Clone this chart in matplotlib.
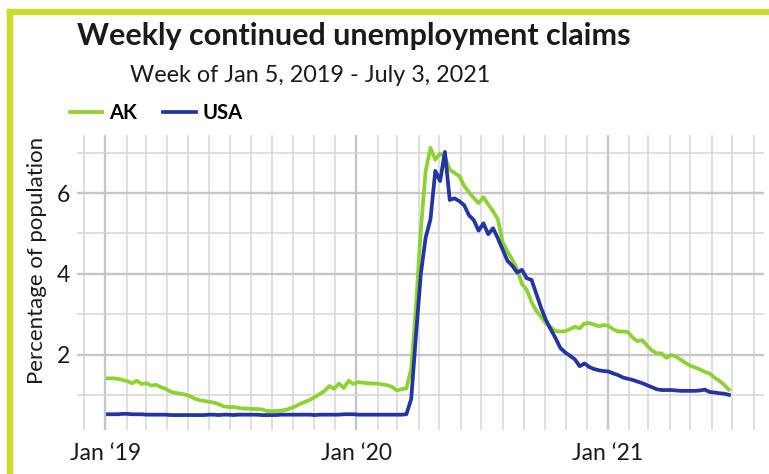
import pandas as pd
import matplotlib.pyplot as plt
import matplotlib.dates as mdates
from matplotlib.ticker import MultipleLocator
from matplotlib.patches import Rectangle

# weekly continued claims, % of population
ak = [1.41, 1.41, 1.40, 1.37, 1.34, 1.29, 1.35, 1.27, 1.29, 1.23,
      1.25, 1.19, 1.15, 1.08, 1.05, 1.03, 1.01, 0.97, 0.91, 0.87,
      0.85, 0.83, 0.81, 0.77, 0.72, 0.70, 0.70, 0.68, 0.66, 0.66,
      0.65, 0.65, 0.64, 0.60, 0.60, 0.60, 0.61, 0.63, 0.67, 0.72,
      0.78, 0.83, 0.88, 0.95, 1.02, 1.10, 1.22, 1.15, 1.28, 1.17,
      1.35, 1.27, 1.32, 1.30, 1.29, 1.28, 1.28, 1.26, 1.24, 1.20,
      1.11, 1.14, 1.16, 1.65, 3.20, 5.10, 6.55, 7.12, 6.83, 6.98,
      6.90, 6.58, 6.50, 6.42, 6.18, 6.02, 5.88, 5.75, 5.90, 5.72,
      5.55, 5.35, 4.78, 4.55, 4.35, 4.12, 3.75, 3.60, 3.30, 3.08,
      2.93, 2.77, 2.67, 2.58, 2.57, 2.58, 2.63, 2.69, 2.65, 2.77,
      2.78, 2.74, 2.70, 2.73, 2.71, 2.62, 2.57, 2.57, 2.56, 2.42,
      2.33, 2.36, 2.22, 2.10, 2.03, 2.03, 1.92, 1.99, 1.95, 1.87,
      1.79, 1.72, 1.68, 1.63, 1.57, 1.53, 1.43, 1.35, 1.25, 1.13]

usa = [0.52, 0.52, 0.52, 0.53, 0.53, 0.52, 0.52, 0.52, 0.51, 0.51,
       0.51, 0.51, 0.51, 0.50, 0.50, 0.50, 0.50, 0.50, 0.50, 0.50,
       0.50, 0.51, 0.51, 0.50, 0.51, 0.51, 0.50, 0.51, 0.51, 0.51,
       0.51, 0.51, 0.50, 0.50, 0.50, 0.50, 0.51, 0.51, 0.51, 0.51,
       0.51, 0.51, 0.51, 0.50, 0.51, 0.51, 0.51, 0.51, 0.51, 0.52,
       0.52, 0.52, 0.51, 0.51, 0.51, 0.51, 0.51, 0.51, 0.51, 0.51,
       0.51, 0.51, 0.52, 0.90, 2.50, 4.00, 4.90, 5.35, 6.55, 6.30,
       7.02, 5.83, 5.87, 5.80, 5.70, 5.45, 5.33, 5.07, 5.25, 4.98,
       5.13, 4.88, 4.60, 4.32, 4.20, 4.03, 4.10, 3.89, 3.85, 3.50,
       3.15, 2.85, 2.62, 2.40, 2.16, 2.05, 1.97, 1.88, 1.71, 1.78,
       1.69, 1.64, 1.61, 1.59, 1.58, 1.53, 1.49, 1.43, 1.40, 1.37,
       1.33, 1.29, 1.24, 1.19, 1.14, 1.12, 1.12, 1.12, 1.11, 1.10,
       1.10, 1.10, 1.10, 1.11, 1.13, 1.07, 1.06, 1.04, 1.03, 1.00]

weeks = pd.date_range('2019-01-05', periods=len(ak), freq='7D')

ak_color = '#8DD230'
usa_color = '#2434A2'
frame_color = '#C9DC2B'
font = 'Lato'

plt.rcParams['font.family'] = [font, 'DejaVu Sans']

W, H = 769, 474
fig = plt.figure(figsize=(W / 100, H / 100), dpi=100)

# green frame (left and top edges)
fig.patches.append(Rectangle((7 / W, 0), 5 / W, 1 - 9 / H, transform=fig.transFigure,
                             color=frame_color, zorder=0))
fig.patches.append(Rectangle((7 / W, 1 - 14 / H), 1, 5 / H, transform=fig.transFigure,
                             color=frame_color, zorder=0))

ax = fig.add_axes([77 / W, 1 - 430 / H, (764 - 77) / W, (430 - 135) / H])
ax.plot(weeks, ak, color=ak_color, lw=2.7, label='AK', solid_joinstyle='round')
ax.plot(weeks, usa, color=usa_color, lw=2.7, label='USA', solid_joinstyle='round')

ax.set_xlim(pd.Timestamp('2018-11-21'), pd.Timestamp('2021-08-16'))
ax.set_ylim(0.13, 7.44)

ax.xaxis.set_major_locator(mdates.YearLocator())
ax.xaxis.set_minor_locator(mdates.MonthLocator())
ax.xaxis.set_major_formatter(mdates.DateFormatter('Jan \u2018%y'))
ax.yaxis.set_major_locator(MultipleLocator(2))
ax.yaxis.set_minor_locator(MultipleLocator(1))

ax.grid(which='major', color='#c6c6c6', lw=1.7)
ax.grid(which='minor', color='#d6d6d6', lw=1.1)
ax.set_axisbelow(True)
for s in ax.spines.values():
    s.set_visible(False)
ax.tick_params(which='both', length=0)
ax.tick_params(axis='x', labelsize=16.5, pad=9, labelcolor='#1a1a1a')
ax.tick_params(axis='y', labelsize=16.5, pad=5, labelcolor='#1a1a1a')

fig.text(37 / W, 1 - 260 / H, 'Percentage of population', rotation=90,
         ha='center', va='center', fontsize=16, color='#1a1a1a')

fig.text(77 / W, 1 - 45 / H, 'Weekly continued unemployment claims',
         fontsize=22, fontweight='bold', color='#1a1a1a', va='baseline')
fig.text(130 / W, 1 - 81.5 / H, 'Week of Jan 5, 2019 - July 3, 2021',
         fontsize=16.8, color='#1a1a1a', va='baseline')

fig.legend(loc='center left', bbox_to_anchor=(70 / W, 1 - 113 / H), ncol=2,
           frameon=False, prop={'family': font, 'weight': 'bold', 'size': 14.5},
           handlelength=1.6, handletextpad=0.35, columnspacing=1.3,
           borderpad=0, borderaxespad=0)

fig.savefig('out.png', dpi=100, facecolor='white')
